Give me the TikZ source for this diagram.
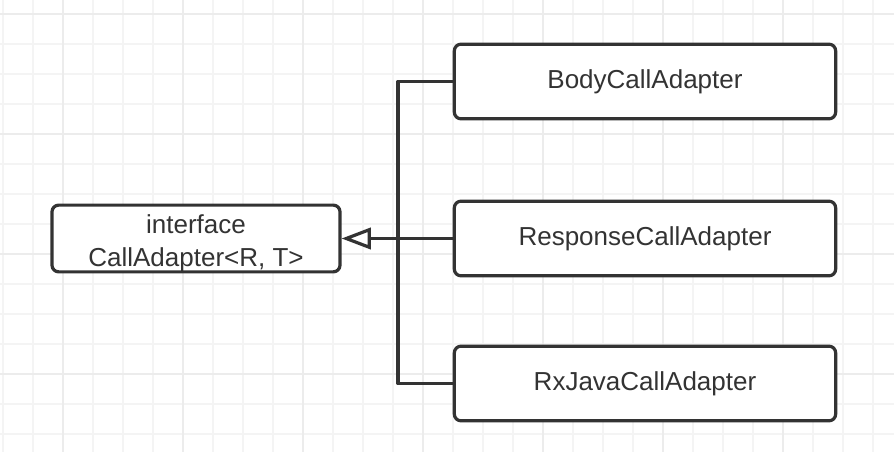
\documentclass[tikz,border=0pt]{standalone}
\usepackage{fontspec}
\setmainfont{Liberation Sans}
\usetikzlibrary{arrows.meta}
\definecolor{ink}{HTML}{333333}
\definecolor{gridminor}{HTML}{F4F4F4}
\definecolor{gridmajor}{HTML}{ECECEC}
\tikzset{
  classbox/.style={draw=ink, line width=2.4pt, rounded corners=5pt, fill=white,
    text=ink, align=center, inner sep=0pt, font=\fontsize{19.5}{25}\selectfont},
  conn/.style={draw=ink, line width=2.4pt},
}
\begin{document}
\begin{tikzpicture}[x=0.75pt, y=-0.75pt, line join=round, >=stealth]
\useasboundingbox (0,0) rectangle (894,452);
% background grid
\foreach \gx in {0,...,29}
  \draw[gridminor, line width=1.4pt] (3+30*\gx,0) -- (3+30*\gx,452);
\foreach \gy in {0,...,14}
  \draw[gridminor, line width=1.4pt] (0,14+30*\gy) -- (894,14+30*\gy);
\foreach \gx in {63,183,303,423,543,663,783}
  \draw[gridmajor, line width=1.4pt] (\gx,0) -- (\gx,452);
\foreach \gy in {14,134,254,374}
  \draw[gridmajor, line width=1.4pt] (0,\gy) -- (894,\gy);

\node[classbox, minimum width=216pt, minimum height=50pt] (iface) at (196,238.5) {\rule{0pt}{21pt}interface\\CallAdapter<R, T>};
\node[classbox, minimum width=286pt, minimum height=56pt] (body) at (645,81.5) {BodyCallAdapter};
\node[classbox, minimum width=286pt, minimum height=56pt] (resp) at (645,238.5) {ResponseCallAdapter};
\node[classbox, minimum width=286pt, minimum height=56pt] (rxjava) at (645,383.5) {RxJavaCallAdapter};

\coordinate (trunk) at (398,238.5);
\draw[conn] (body.west) -| (trunk);
\draw[conn] (rxjava.west) -| (trunk);
\draw[conn] (resp.west) -- (trunk);
\draw[conn, -{Triangle[open, length=22pt, width=16pt, fill=white]}] (trunk) -- (iface.east);
\end{tikzpicture}
\end{document}
